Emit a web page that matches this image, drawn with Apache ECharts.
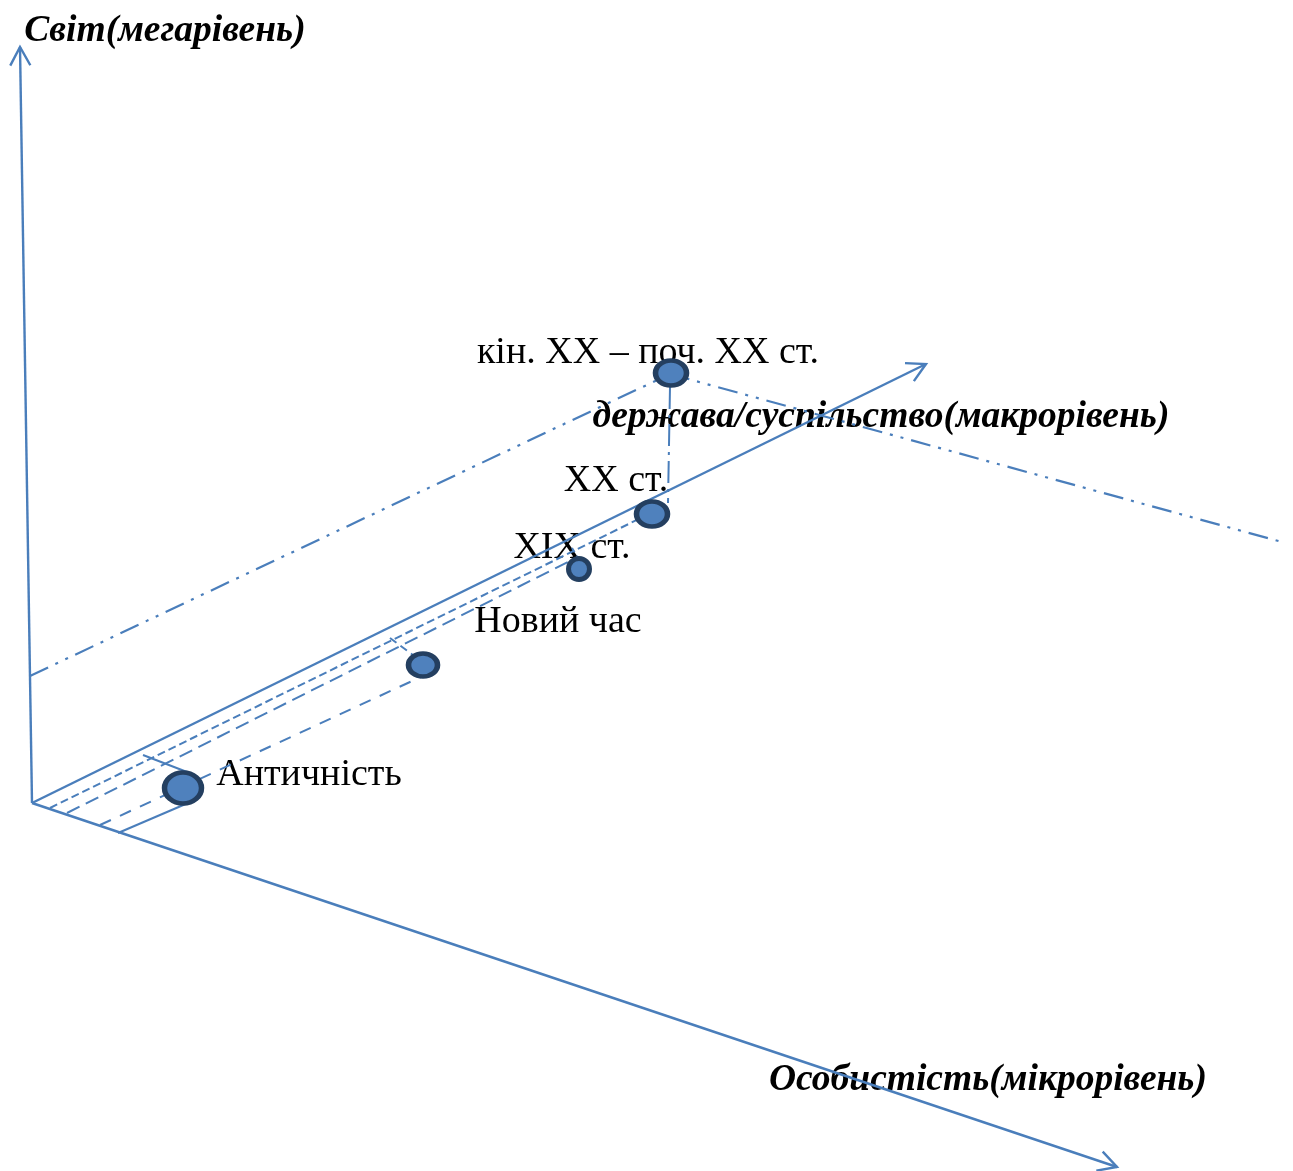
<!DOCTYPE html>
<html><head><meta charset="utf-8">
<script src="https://cdn.jsdelivr.net/npm/echarts@6/dist/echarts.min.js"></script>
<style>html,body{margin:0;padding:0;background:#fff}#c{width:1293px;height:1171px}</style>
</head><body><div id="c"></div>
<script>
// ---- data (diagram coordinates, origin = intersection of the three axes) ----
const eraNames = ['Античність', 'Новий час', 'XIX ст.', 'XX ст.', 'кін. XX – поч. XX ст.'];
const eraX = [151, 391, 547, 620, 639];
const eraY = [15, 138, 234, 289, 430];

const axisNames = ['Світ(мегарівень)', 'держава/суспільство(макрорівень)', 'Особистість(мікрорівень)'];
const axisTipX = [-12, 894, 1085];
const axisTipY = [756, 439, -364];

// projection / guide segments
const guideX0 = [18, 35, 68, 86, 111, 358, 540, 638, -2, 638];
const guideY0 = [-5, -10, -22, -30, 48, 165, 255, 416, 127, 429];
const guideX1 = [619, 542, 391, 156, 155, 381, 546, 636, 638, 1250];
const guideY1 = [290, 244, 127, 0, 31, 148, 245, 300, 429, 261];

// ---- styles ----
const LINE = '#4a7ebb';
const guideDash = [[8,4],[14,7],[12,10],'solid','solid',[8,5],[5,4],[22,6,3,6],[20,8,3,8,3,8],[20,8,3,8,3,8]];
const guideWidth = [2,2,2,2,2,2,2,2,2.2,2.2];
const eraSize = [[37,31],[29,23],[21,21],[31,25],[31,25]];
const eraLabelOffset = [[126,-13],[135,-43],[-7,-21],[-36,-33],[-23,-20]];
const axisLabelOffset = [[145,-16],[-45,53],[-129,-87]];
const SERIF = '"Liberation Serif", "Times New Roman", serif';

const series = [];

guideX0.forEach((x0, i) => {
  series.push({
    type: 'line', z: 2, silent: true, symbol: 'none', animation: false,
    data: [[x0, guideY0[i]], [guideX1[i], guideY1[i]]],
    lineStyle: { color: LINE, width: guideWidth[i], type: guideDash[i], opacity: 1 }
  });
});

series.push({
  type: 'custom', z: 3, silent: true, animation: false,
  encode: { x: [0, 2], y: [1, 3] },
  data: axisTipX.map((x, i) => [0, 0, x, axisTipY[i]]),
  renderItem: function (params, api) {
    const p0 = api.coord([api.value(0), api.value(1)]);
    const p1 = api.coord([api.value(2), api.value(3)]);
    const ang = Math.atan2(p0[1] - p1[1], p0[0] - p1[0]);
    const L = 21, h = Math.PI / 6.3;
    const a1 = [p1[0] + L * Math.cos(ang + h), p1[1] + L * Math.sin(ang + h)];
    const a2 = [p1[0] + L * Math.cos(ang - h), p1[1] + L * Math.sin(ang - h)];
    return {
      type: 'group', children: [
        { type: 'line', shape: { x1: p0[0], y1: p0[1], x2: p1[0], y2: p1[1] }, style: { stroke: LINE, lineWidth: 2.4 } },
        { type: 'polyline', shape: { points: [a1, p1, a2] }, style: { stroke: LINE, lineWidth: 2.4, fill: null } }
      ]
    };
  }
});

// axis titles
series.push({
  type: 'scatter', z: 1, silent: true, symbolSize: 0, animation: false,
  itemStyle: { opacity: 1 },
  data: axisNames.map((n, i) => ({
    value: [axisTipX[i], axisTipY[i]], name: n,
    label: { offset: axisLabelOffset[i] }
  })),
  label: {
    show: true, position: 'inside', formatter: '{b}', color: '#000',
    textBorderWidth: 0, textShadowBlur: 0,
    fontFamily: SERIF, fontSize: 37.5, fontWeight: 'bold', fontStyle: 'italic',
    align: 'center', verticalAlign: 'middle'
  }
});

// era labels
series.push({
  type: 'scatter', z: 1, silent: true, symbolSize: 0, animation: false,
  itemStyle: { opacity: 1 },
  data: eraNames.map((n, i) => ({
    value: [eraX[i], eraY[i]], name: n,
    label: { offset: eraLabelOffset[i] }
  })),
  label: {
    show: true, position: 'inside', formatter: '{b}', color: '#000',
    textBorderWidth: 0, textShadowBlur: 0,
    fontFamily: SERIF, fontSize: 38,
    align: 'center', verticalAlign: 'middle'
  }
});

// era points
series.push({
  type: 'scatter', z: 4, silent: true, animation: false, symbol: 'circle',
  data: eraNames.map((n, i) => ({ value: [eraX[i], eraY[i]], name: n, symbolSize: eraSize[i] })),
  itemStyle: { color: '#4f81bd', borderColor: '#243f60', borderWidth: 5, opacity: 1 }
});

const chart = echarts.init(document.getElementById('c'));
chart.setOption({
  backgroundColor: '#fff',
  animation: false,
  grid: { left: 0, right: 0, top: 0, bottom: 0 },
  xAxis: { type: 'value', min: -32, max: 1261, show: false },
  yAxis: { type: 'value', min: -368, max: 803, show: false },
  series: series
});
</script>
</body></html>
